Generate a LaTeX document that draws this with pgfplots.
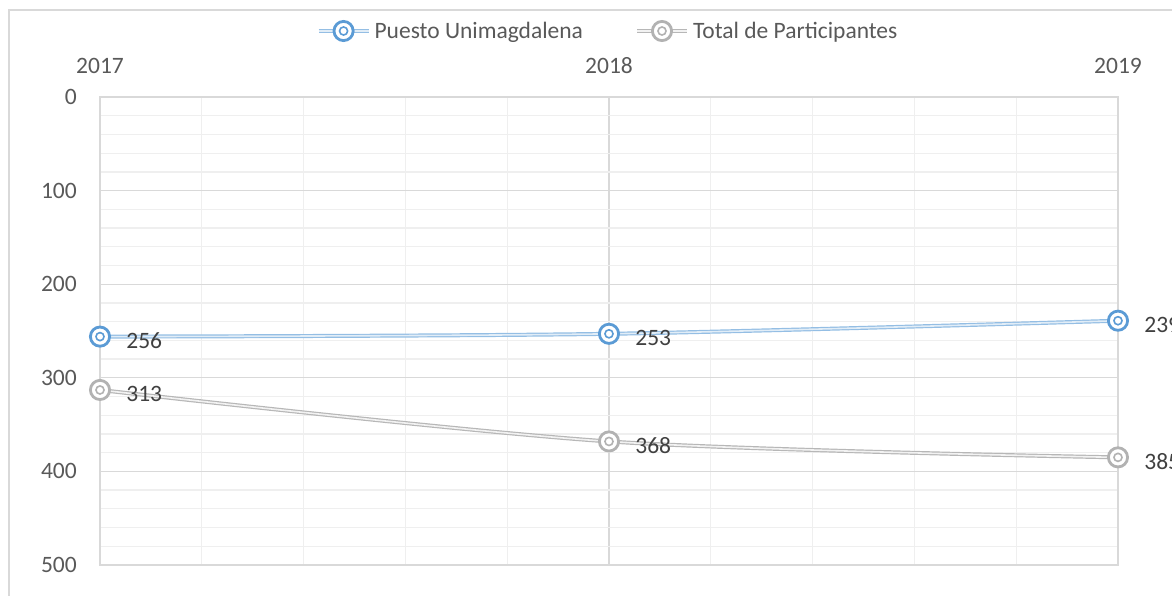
\documentclass[border=0pt]{standalone}
\usepackage{pgfplots}
\pgfplotsset{compat=1.18}
\usepackage{fontspec}
\setmainfont{Carlito}
\definecolor{txt}{HTML}{595959}
\definecolor{lbl}{HTML}{404040}
\definecolor{majgrid}{HTML}{D9D9D9}
\definecolor{mingrid}{HTML}{EFEFEF}
\definecolor{blueS}{HTML}{5B9BD5}
\definecolor{grayS}{HTML}{A5A5A5}
\pgfdeclareplotmark{dring}{%
  \pgfsetlinewidth{2.8bp}%
  \pgfsetfillcolor{white}%
  \pgfpathcircle{\pgfpointorigin}{\pgfplotmarksize}%
  \pgfusepath{fill,stroke}%
  \pgfsetlinewidth{1.6bp}%
  \pgfpathcircle{\pgfpointorigin}{0.42\pgfplotmarksize}%
  \pgfusepath{stroke}%
  \pgfsetlinewidth{2.8bp}%
}
\begin{document}
\begin{tikzpicture}
\begin{axis}[
  scale only axis, width=1018bp, height=468bp,
  font=\fontsize{23.5bp}{28bp}\selectfont,
  xmin=2017, xmax=2019, ymin=0, ymax=500,
  y dir=reverse,
  xtick={2017,2018,2019}, xticklabels={2017,2018,2019},
  ytick={0,100,200,300,400,500},
  minor x tick num=4, minor y tick num=4,
  grid=both,
  major grid style={majgrid, line width=1.3bp},
  minor grid style={mingrid, line width=1.3bp},
  axis line style={majgrid, line width=1.3bp},
  major tick length=0pt, minor tick length=0pt,
  xticklabel pos=upper,
  xticklabel style={txt, inner sep=0pt, yshift=23bp},
  yticklabel style={txt, inner sep=0pt, xshift=-23bp},
  scaled ticks=false,
  /pgf/number format/assume math mode=true,
  /pgf/number format/1000 sep={},
  legend columns=2,
  legend style={draw=none, fill=none, text=txt, inner sep=0pt,
    at={(axis description cs:0.5,1)}, anchor=center, yshift=66bp,
    /tikz/every even column/.append style={column sep=48bp},
    nodes={inner xsep=4bp, inner ysep=0pt}},
  legend cell align=left,
  legend image code/.code={%
    \draw[mark repeat=2,mark phase=2,#1] plot coordinates {(0bp,0bp) (25bp,0bp) (50bp,0bp)};},
  nodes near coords,
  every node near coord/.append style={lbl, anchor=west, inner sep=0pt, xshift=25bp, yshift=-4bp},
  point meta=explicit symbolic,
  clip=false,
]
\addplot[blueS!65, line width=1.2bp, double=blueS!18, double distance=1.6bp,
  smooth, mark=dring, mark size=9.6bp,
  mark options={blueS}]
  table[meta=lab] {
  x y lab
  2017 256 256
  2018 253 253
  2019 239 239
};
\addlegendentry{Puesto Unimagdalena}
\addplot[grayS!80, line width=1.2bp, double=grayS!15, double distance=1.6bp,
  smooth, mark=dring, mark size=9.6bp,
  mark options={grayS!85}]
  table[meta=lab] {
  x y lab
  2017 313 313
  2018 368 368
  2019 385 385
};
\addlegendentry{Total de Participantes}
\coordinate (P0) at (axis cs:2017,500);
\end{axis}
\pgfresetboundingbox
\path[use as bounding box] ([shift={(-100bp,-31bp)}]P0) rectangle ([shift={(1072bp,565bp)}]P0);
\draw[majgrid, line width=1.2bp] ([shift={(-91bp,-40bp)}]P0) -- ([shift={(-91bp,555bp)}]P0) -- ([shift={(1100bp,555bp)}]P0);
\end{tikzpicture}
\end{document}
